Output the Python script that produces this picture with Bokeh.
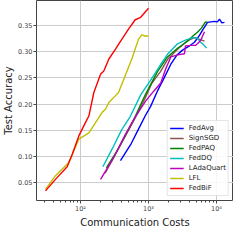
from bokeh.plotting import figure
from bokeh.models import FixedTicker, CustomJSTickFormatter
from bokeh.embed import file_html
from bokeh.resources import INLINE

# ---- data (communication cost, test accuracy) ----
fedavg_x = [387, 560, 700, 900, 1070, 1355, 1700, 2130, 2600, 3160, 3900, 4740, 5620, 6300, 6890, 7380, 8300, 9340, 10300, 11070, 12000, 13100]
fedavg_y = [0.092, 0.125, 0.150, 0.178, 0.195, 0.225, 0.250, 0.276, 0.293, 0.303, 0.310, 0.318, 0.331, 0.342, 0.350, 0.356, 0.357, 0.358, 0.357, 0.362, 0.355, 0.356]

signsgd_x = [230, 400, 617, 900, 1100, 1280, 1500, 1900, 2700, 3750, 4750, 5820, 6670]
signsgd_y = [0.068, 0.125, 0.170, 0.212, 0.238, 0.250, 0.262, 0.285, 0.305, 0.321, 0.327, 0.323, 0.320]

fedpaq_x = [240, 350, 617, 900, 1355, 1900, 2700, 3750, 4500, 5250, 6000, 6890, 7380]
fedpaq_y = [0.078, 0.112, 0.172, 0.218, 0.262, 0.290, 0.307, 0.320, 0.330, 0.337, 0.345, 0.357, 0.356]

feddq_x = [213, 300, 400, 538, 771, 1070, 1500, 1900, 2670, 3500, 4430, 5250, 5820, 6400, 7130]
feddq_y = [0.080, 0.117, 0.150, 0.176, 0.218, 0.245, 0.275, 0.295, 0.315, 0.322, 0.327, 0.326, 0.318, 0.314, 0.307]

ladaquart_x = [197, 300, 450, 617, 900, 1200, 1515, 1800, 2130, 2700, 3380, 3500, 4200, 4910, 5820, 6670]
ladaquart_y = [0.056, 0.095, 0.140, 0.172, 0.205, 0.225, 0.240, 0.268, 0.290, 0.294, 0.296, 0.311, 0.312, 0.312, 0.321, 0.338]

lfl_x = [30.5, 42.8, 67.3, 94.4, 132.6, 208, 233, 261, 327, 362, 568, 713, 797, 893, 1000]
lfl_y = [0.037, 0.063, 0.088, 0.133, 0.145, 0.184, 0.190, 0.203, 0.216, 0.222, 0.286, 0.324, 0.332, 0.330, 0.330]

fedbif_x = [30.5, 42.8, 63.6, 75.5, 94.4, 118.5, 132.6, 157, 197, 220, 261, 327, 362, 508, 637, 755, 844, 1000]
fedbif_y = [0.034, 0.056, 0.080, 0.104, 0.139, 0.165, 0.177, 0.222, 0.257, 0.263, 0.286, 0.305, 0.314, 0.343, 0.361, 0.365, 0.372, 0.383]

series_names = ["FedAvg", "SignSGD", "FedPAQ", "FedDQ", "LAdaQuart", "LFL", "FedBiF"]
series_colors = ["#0000ff", "#8c564b", "#008000", "#00bfbf", "#bf00bf", "#bfbf00", "#ff0000"]
series_data = [(fedavg_x, fedavg_y), (signsgd_x, signsgd_y), (fedpaq_x, fedpaq_y),
               (feddq_x, feddq_y), (ladaquart_x, ladaquart_y), (lfl_x, lfl_y), (fedbif_x, fedbif_y)]

y_ticks = [0.05, 0.10, 0.15, 0.20, 0.25, 0.30, 0.35]
x_ticks = [100, 1000, 10000]

FONT = "DejaVu Sans"

p = figure(frame_width=197, frame_height=200, x_axis_type="log",
           x_range=(22.5, 17800), y_range=(0.0156, 0.3978),
           output_backend="svg", toolbar_location=None, title=None,
           min_border_left=31, min_border_right=0, min_border_top=0, min_border_bottom=24)

for (xs, ys), name, col in zip(series_data, series_names, series_colors):
    p.line(xs, ys, line_color=col, line_width=1.4, legend_label=name)

p.background_fill_color = "white"
p.outline_line_color = "#444444"
p.outline_line_width = 1

# axes
p.xaxis.ticker = FixedTicker(ticks=x_ticks,
                             minor_ticks=[m * 10 ** e for e in (1, 2, 3, 4) for m in range(2, 10)])
p.xaxis.formatter = CustomJSTickFormatter(code="""
const e = Math.round(Math.log10(tick));
const sup = {1:'\u00b9', 2:'\u00b2', 3:'\u00b3', 4:'\u2074', 5:'\u2075'};
return '10' + sup[e];
""")
p.yaxis.ticker = FixedTicker(ticks=y_ticks)
p.yaxis.formatter = CustomJSTickFormatter(code="return tick.toFixed(2);")

for ax in (p.xaxis[0], p.yaxis[0]):
    ax.axis_line_color = None
    ax.major_tick_line_color = "#444444"
    ax.major_tick_in = 0
    ax.major_tick_out = 3
    ax.minor_tick_in = 0
    ax.minor_tick_out = 2
    ax.minor_tick_line_color = "#444444"
    ax.major_label_text_font = FONT
    ax.major_label_text_font_size = "6.5px"
    ax.major_label_text_color = "#444444"
    ax.major_label_standoff = 1
    ax.axis_label_text_font = FONT
    ax.axis_label_text_font_size = "10px"
    ax.axis_label_text_font_style = "normal"
    ax.axis_label_text_color = "#222222"
    ax.axis_label_standoff = 1
p.yaxis.minor_tick_line_color = None
p.xaxis.axis_label = "Communication Costs"
p.yaxis.axis_label = "Test Accuracy"

p.xgrid.grid_line_color = "#cccccc"
p.ygrid.grid_line_color = "#cccccc"
p.xgrid.grid_line_width = 1
p.ygrid.grid_line_width = 1

lg = p.legend[0]
lg.location = "bottom_right"
lg.margin = 4
lg.padding = 2
lg.spacing = 0
lg.label_height = 10
lg.glyph_height = 10
lg.glyph_width = 14
lg.label_standoff = 5
lg.label_text_font = FONT
lg.label_text_font_size = "7px"
lg.label_text_color = "#222222"
lg.border_line_color = "#cccccc"
lg.border_line_width = 1
lg.background_fill_alpha = 0.85

open("out.html", "w").write(file_html(p, INLINE))
